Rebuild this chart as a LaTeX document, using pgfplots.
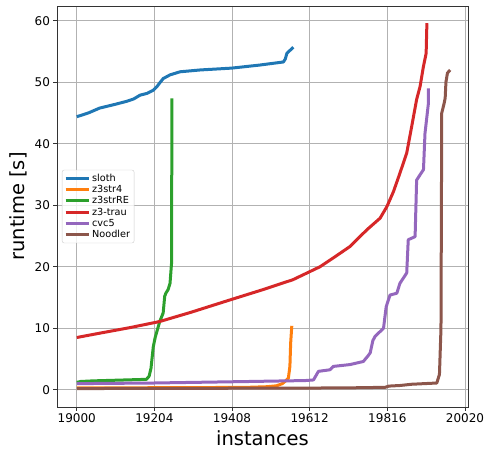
\documentclass[border=0pt]{standalone}
\usepackage{fontspec}
\setmainfont{DejaVu Sans}
\usepackage{pgfplots}
\pgfplotsset{compat=1.18}
\definecolor{c0}{HTML}{1F77B4}
\definecolor{c1}{HTML}{FF7F0E}
\definecolor{c2}{HTML}{2CA02C}
\definecolor{c3}{HTML}{D62728}
\definecolor{c4}{HTML}{9467BD}
\definecolor{c5}{HTML}{8C564B}
\begin{document}
\begin{tikzpicture}
\begin{axis}[
  scale only axis,
  width=411pt, height=401pt,
  xmin=18948, xmax=20028,
  ymin=-2.8, ymax=62.4,
  xtick={19000,19204,19408,19612,19816,20020},
  ytick={0,10,20,30,40,50,60},
  /pgf/number format/assume math mode=true,
  xticklabel style={font=\fontsize{12}{14}\selectfont, /pgf/number format/.cd, set thousands separator={}},
  yticklabel style={font=\fontsize{12}{14}\selectfont},
  scaled x ticks=false,
  xlabel={instances}, ylabel={runtime [s]},
  every axis x label/.style={at={(axis description cs:0.5,-0.0773)}, anchor=center, font=\fontsize{19.5}{22}\selectfont},
  every axis y label/.style={at={(axis description cs:-0.0949,0.5)}, rotate=90, anchor=center, font=\fontsize{19.5}{22}\selectfont},
  grid=major,
  major grid style={draw=black!30, line width=0.8pt},
  tick align=outside, tick pos=left,
  major tick length=3.5pt,
  axis line style={black!80, line width=0.8pt},
  every tick/.style={black!80, line width=0.8pt},
  legend style={at={(0.012,0.5)}, anchor=west, font=\fontsize{9.7}{11}\selectfont,
    draw=black!20, rounded corners=2pt, fill=white, fill opacity=0.8, text opacity=1,
    row sep=-1.5pt, inner sep=2pt},
  legend cell align=left,
  legend image code/.code={\draw[#1, line width=3pt] (0pt,0pt) -- (23pt,0pt);},
  every axis plot/.append style={line width=3pt, line join=round},
]
\addplot[c0] coordinates {(19000,44.4) (19030,45.0) (19060,45.8) (19100,46.4) (19131,46.9) (19150,47.3) (19166,47.9) (19185,48.2) (19201,48.7) (19212,49.4) (19218,49.9) (19227,50.6) (19245,51.2) (19271,51.7) (19324,52.0) (19407,52.3) (19481,52.8) (19543,53.3) (19548,53.8) (19552,54.7) (19569,55.7)};
\addlegendentry{sloth}
\addplot[c1] coordinates {(19000,0.3) (19300,0.35) (19450,0.4) (19500,0.5) (19525,0.65) (19540,1.0) (19547,1.35) (19556,1.9) (19560,3.8) (19562,7.6) (19565,10.4)};
\addlegendentry{z3str4}
\addplot[c2] coordinates {(19000,1.2) (19010,1.35) (19043,1.45) (19100,1.55) (19183,1.7) (19190,2.2) (19195,3.5) (19201,7.0) (19206,8.5) (19212,9.8) (19218,11.1) (19227,12.5) (19231,15.2) (19234,15.7) (19240,16.3) (19245,17.3) (19249,20.6) (19250,47.4)};
\addlegendentry{z3strRE}
\addplot[c3] coordinates {(19000,8.5) (19060,9.2) (19139,10.1) (19218,11.1) (19300,12.6) (19402,14.6) (19490,16.3) (19568,17.9) (19639,20.0) (19673,21.4) (19718,23.3) (19762,26.0) (19797,27.9) (19815,29.8) (19832,32.2) (19849,35.2) (19867,38.5) (19880,42.8) (19893,47.2) (19902,49.3) (19911,52.6) (19918,54.7) (19920,59.6)};
\addlegendentry{z3-trau}
\addplot[c4] coordinates {(19000,1.0) (19200,1.1) (19455,1.35) (19600,1.5) (19622,1.6) (19635,3.0) (19665,3.25) (19674,3.8) (19718,4.1) (19753,4.6) (19765,5.5) (19771,6.0) (19778,8.0) (19784,8.7) (19806,10.0) (19813,13.5) (19823,15.4) (19841,15.7) (19849,17.3) (19867,19.0) (19871,24.4) (19889,24.9) (19893,34.1) (19911,35.8) (19915,41.7) (19924,46.6) (19924,49.0)};
\addlegendentry{cvc5}
\addplot[c5] coordinates {(19000,0.2) (19400,0.25) (19700,0.3) (19810,0.4) (19820,0.6) (19850,0.7) (19880,0.9) (19946,1.1) (19953,2.5) (19957,10) (19959,45.0) (19965,46.5) (19968,47.4) (19970,50.0) (19974,51.5) (19981,52.0)};
\addlegendentry{Noodler}
\end{axis}
\pgfresetboundingbox
\useasboundingbox ([xshift=-57pt,yshift=-42pt]current axis.south west) rectangle ([xshift=17pt,yshift=6pt]current axis.north east);
\end{tikzpicture}
\end{document}
